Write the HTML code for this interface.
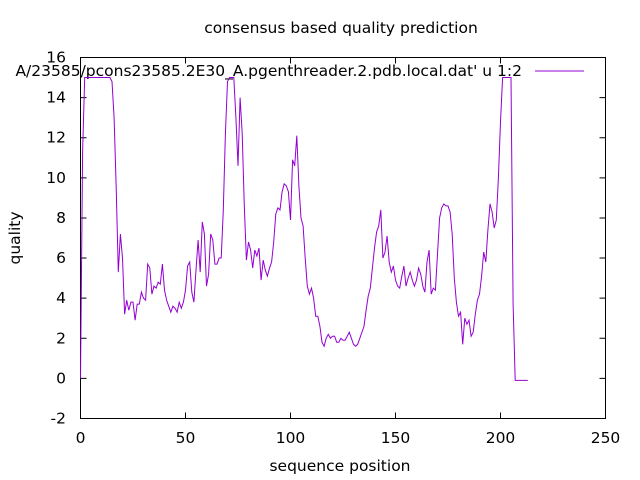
<!DOCTYPE html>
<html><head><meta charset="utf-8"><style>
body{margin:0;background:#fff;}
svg{display:block;font-family:"DejaVu Sans","Liberation Sans",sans-serif;}
</style></head><body>
<svg id="chart" width="640" height="480" xmlns="http://www.w3.org/2000/svg">
<rect width="640" height="480" fill="#fff"/>
<text x="341" y="33" font-size="15.5" text-anchor="middle">consensus based quality prediction</text>
<rect x="80.5" y="57.5" width="525" height="361" fill="none" stroke="#000" stroke-width="1"/>
<g id="ticks"></g>
<text transform="translate(20,238) rotate(-90)" font-size="15.5" text-anchor="middle">quality</text>
<text x="340" y="471" font-size="15.5" text-anchor="middle">sequence position</text>
<text x="522" y="76" font-size="15.5" text-anchor="end">A/23585/pcons23585.2E30_A.pgenthreader.2.pdb.local.dat' u 1:2</text>
<line x1="535" y1="71" x2="584" y2="71" stroke="#9400d3" stroke-width="1"/>
<path id="series" fill="none" stroke="#9400d3" stroke-width="1"/>
</svg>
<script>
const yValues = [0,11.3,15,15,15,15,15,15,15,15,15,15,15,15,15,14.8,13,9.5,5.3,7.2,6,3.2,3.9,3.4,3.8,3.8,2.9,3.7,3.7,4.3,4.0,3.9,5.7,5.5,4.2,4.6,4.5,4.8,4.7,5.7,4.4,3.9,3.6,3.3,3.6,3.5,3.3,3.8,3.5,3.8,4.4,5.6,5.8,4.3,3.8,5.4,6.9,5.3,7.8,7.2,4.6,5.2,7.2,6.9,5.7,5.7,6.0,6.0,8.4,12.2,14.8,15,15,15,13,10.6,14,12.2,8.6,5.9,6.8,6.4,5.5,6.4,6.1,6.5,4.9,5.9,5.4,5.1,5.5,5.8,6.8,8.2,8.5,8.4,9.3,9.7,9.6,9.3,7.9,10.9,10.6,12.1,9.6,8.0,7.6,6.0,4.6,4.2,4.5,4.0,3.1,3.1,2.6,1.8,1.6,2.0,2.2,2.0,2.1,2.1,1.8,1.8,2.0,1.9,1.9,2.1,2.3,2.0,1.7,1.6,1.7,2.0,2.3,2.6,3.4,4.1,4.5,5.5,6.5,7.3,7.6,8.4,6.0,6.3,7.1,5.8,5.3,5.6,4.9,4.6,4.5,5.1,5.6,4.6,5.0,5.3,4.9,4.6,4.9,5.5,5.2,4.6,4.3,5.8,6.4,4.2,4.5,4.4,6.2,8.0,8.5,8.7,8.6,8.6,8.3,7.2,5.0,3.8,3.1,3.3,1.7,3.0,2.7,2.9,2.1,2.3,3.2,3.9,4.2,5.1,6.3,5.8,7.4,8.7,8.3,7.5,7.9,10.0,12.8,15,15,15,15,15,3.7,-0.1,-0.1,-0.1,-0.1,-0.1,-0.1,-0.1];
const xStart = 0;
const xTicks = [0,50,100,150,200,250];
const yTicks = [-2,0,2,4,6,8,10,12,14,16];
const X0=80.5,X1=605.5,Y0=418.5,Y1=57.5;
function sx(v){return X0+(v-0)/(250-0)*(X1-X0);}
function sy(v){return Y0-(v-(-2))/(16-(-2))*(Y0-Y1);}
const NS="http://www.w3.org/2000/svg";
const g=document.getElementById('ticks');
xTicks.forEach(t=>{
  const x=sx(t);
  const l1=document.createElementNS(NS,'path');
  l1.setAttribute('d',`M${x},${Y0}v-6M${x},${Y1}v6`);
  l1.setAttribute('stroke','#000');
  
  
  g.appendChild(l1);
  const tx=document.createElementNS(NS,'text');
  tx.setAttribute('x',x);tx.setAttribute('y',443);
  tx.setAttribute('font-size','15.5');tx.setAttribute('text-anchor','middle');
  tx.textContent=t;
  
  
  g.appendChild(tx);
});
yTicks.forEach(t=>{
  const y=sy(t);
  const l1=document.createElementNS(NS,'path');
  l1.setAttribute('d',`M${X0},${y}h6M${X1},${y}h-6`);
  l1.setAttribute('stroke','#000');
  
  
  g.appendChild(l1);
  const tx=document.createElementNS(NS,'text');
  tx.setAttribute('x',66);tx.setAttribute('y',y+5);
  tx.setAttribute('font-size','15.5');tx.setAttribute('text-anchor','end');
  tx.textContent=t;
  
  
  g.appendChild(tx);
});
let d='';
yValues.forEach((v,i)=>{d+=(i?'L':'M')+sx(xStart+i).toFixed(2)+','+sy(v).toFixed(2);});
document.getElementById('series').setAttribute('d',d);
</script>
</body></html>
